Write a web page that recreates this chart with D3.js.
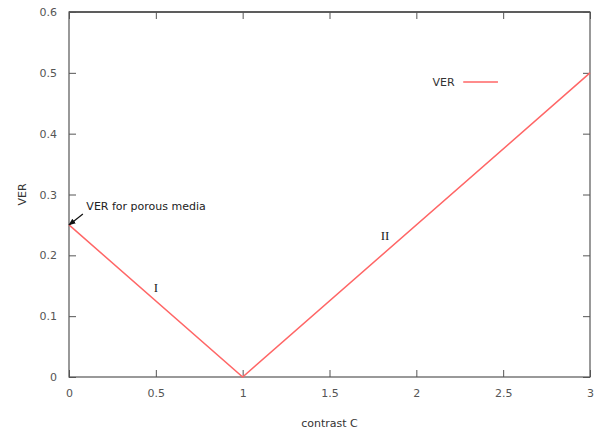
<!DOCTYPE html>
<html>
<head>
<meta charset="utf-8">
<script src="https://cdn.jsdelivr.net/npm/d3@7"></script>
<style>
  body { margin: 0; background: #fff; }
  text { font-family: "DejaVu Sans", sans-serif; }
</style>
</head>
<body>
<div id="chart"></div>
<script>
// Chart data
const contrast = [0, 1, 3];
const verValues = [0.25, 0, 0.5];
const xTicks = [0, 0.5, 1, 1.5, 2, 2.5, 3];
const yTicks = [0, 0.1, 0.2, 0.3, 0.4, 0.5, 0.6];
const regionLabels = [
  { name: "I", c: 0.5, v: 0.14 },
  { name: "II", c: 1.82, v: 0.225 }
];

const margins = { top: 12, right: 7, bottom: 55, left: 69 };
const width = 597 - margins.left - margins.right;
const height = 432 - margins.top - margins.bottom;

const svg = d3.select("#chart")
  .append("svg")
  .attr("width", 597)
  .attr("height", 432)
  .append("g")
  .attr("transform", `translate(${margins.left},${margins.top})`);

const xScale = d3.scaleLinear().domain([0, 3]).range([0, width]);
const yScale = d3.scaleLinear().domain([0, 0.6]).range([height, 0]);

const axisColor = "#555";
const tickLen = 7;

// Frame
svg.append("rect")
  .attr("x", 0).attr("y", 0)
  .attr("width", width).attr("height", height)
  .attr("fill", "none")
  .attr("stroke", axisColor)
  .attr("stroke-width", 1.2);
svg.append("line")
  .attr("x1", 0).attr("x2", width).attr("y1", 0).attr("y2", 0)
  .attr("stroke", "#222").attr("stroke-width", 1.2);

// Ticks (mirrored like gnuplot)
const fmt = d => d3.format("")(d);
svg.append("g")
  .attr("transform", `translate(0,${height})`)
  .call(d3.axisBottom(xScale).tickValues(xTicks).tickFormat(fmt)
    .tickSizeInner(-tickLen).tickSizeOuter(0).tickPadding(12))
  .call(g => g.select(".domain").remove())
  .call(g => g.selectAll(".tick line").attr("stroke", axisColor))
  .call(g => g.selectAll(".tick text").attr("fill", axisColor).style("font-size", "11px"));

svg.append("g")
  .call(d3.axisTop(xScale).tickValues(xTicks).tickFormat("")
    .tickSizeInner(-tickLen).tickSizeOuter(0))
  .call(g => g.select(".domain").remove())
  .call(g => g.selectAll(".tick line").attr("stroke", axisColor));

svg.append("g")
  .call(d3.axisLeft(yScale).tickValues(yTicks).tickFormat(fmt)
    .tickSizeInner(-tickLen).tickSizeOuter(0).tickPadding(12))
  .call(g => g.select(".domain").remove())
  .call(g => g.selectAll(".tick line").attr("stroke", axisColor))
  .call(g => g.selectAll(".tick text").attr("fill", axisColor).style("font-size", "11px"));

svg.append("g")
  .attr("transform", `translate(${width},0)`)
  .call(d3.axisRight(yScale).tickValues(yTicks).tickFormat("")
    .tickSizeInner(-tickLen).tickSizeOuter(0))
  .call(g => g.select(".domain").remove())
  .call(g => g.selectAll(".tick line").attr("stroke", axisColor));

// Axis labels
svg.append("text")
  .attr("x", xScale(1.5))
  .attr("y", height + 50)
  .attr("text-anchor", "middle")
  .attr("fill", "#333")
  .style("font-size", "11px")
  .text("contrast C");

svg.append("text")
  .attr("transform", `translate(${-43},${yScale(0.3)}) rotate(-90)`)
  .attr("text-anchor", "middle")
  .attr("fill", "#333")
  .style("font-size", "11px")
  .text("VER");

// Line
const line = d3.line()
  .x((d, i) => xScale(contrast[i]))
  .y(d => yScale(d));

svg.append("path")
  .datum(verValues)
  .attr("fill", "none")
  .attr("stroke", "#ff6666")
  .attr("stroke-width", 1.5)
  .attr("d", line);

// Region labels
svg.selectAll(".region")
  .data(regionLabels)
  .join("text")
  .attr("class", "region")
  .attr("x", d => xScale(d.c))
  .attr("y", d => yScale(d.v))
  .attr("text-anchor", "middle")
  .attr("fill", "#222")
  .style("font-family", "'Liberation Serif', serif")
  .style("font-size", "13px")
  .text(d => d.name);

// Annotation with arrow
svg.append("defs").append("marker")
  .attr("id", "arrow")
  .attr("viewBox", "0 0 10 10")
  .attr("refX", 9).attr("refY", 5)
  .attr("markerWidth", 6).attr("markerHeight", 6)
  .attr("orient", "auto")
  .append("path")
  .attr("d", "M0,1 L10,5 L0,9 z")
  .attr("fill", "#111");

svg.append("line")
  .attr("x1", xScale(0.08)).attr("y1", yScale(0.268))
  .attr("x2", xScale(0)).attr("y2", yScale(0.25))
  .attr("stroke", "#111")
  .attr("stroke-width", 1.2)
  .attr("marker-end", "url(#arrow)");

svg.append("text")
  .attr("x", xScale(0.1))
  .attr("y", yScale(0.275))
  .attr("fill", "#222")
  .style("font-size", "11px")
  .text("VER for porous media");

// Legend
const legendY = yScale(0.485);
svg.append("text")
  .attr("x", xScale(2.22))
  .attr("y", legendY + 4)
  .attr("text-anchor", "end")
  .attr("fill", "#333")
  .style("font-size", "11px")
  .text("VER");
svg.append("line")
  .attr("x1", xScale(2.27)).attr("x2", xScale(2.47))
  .attr("y1", legendY).attr("y2", legendY)
  .attr("stroke", "#ff6666")
  .attr("stroke-width", 1.5);
</script>
</body>
</html>
